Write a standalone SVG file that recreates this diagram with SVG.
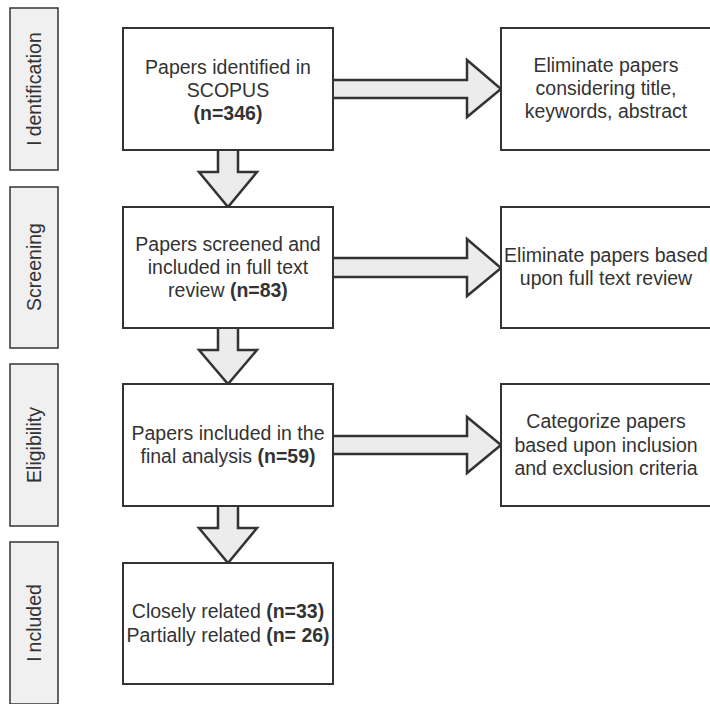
<svg xmlns="http://www.w3.org/2000/svg" width="710" height="704" viewBox="0 0 710 704">
<style>
.bar{fill:#f0f0f0;stroke:#333;stroke-width:1.5}
.box{fill:#fff;stroke:#333;stroke-width:2}
.arr{fill:#ececec;stroke:#333;stroke-width:2.5;stroke-linejoin:miter}
text{font-family:"Liberation Sans",Arial,sans-serif;font-size:19.5px;fill:#333;text-anchor:middle}
.b{font-weight:bold}
</style>
<rect width="710" height="704" fill="#fff"/>
<g id="phase-identification"><rect class="bar" x="10" y="8" width="48" height="162"/><text transform="translate(41,89) rotate(-90)"><tspan>I</tspan><tspan dx="4">dentification</tspan></text></g>
<g id="phase-screening"><rect class="bar" x="10" y="187" width="48" height="161"/><text transform="translate(41,267) rotate(-90)">Screening</text></g>
<g id="phase-eligibility"><rect class="bar" x="10" y="364" width="48" height="162"/><text transform="translate(41,445) rotate(-90)">Eligibility</text></g>
<g id="phase-included"><rect class="bar" x="10" y="542" width="48" height="162"/><text transform="translate(41,623) rotate(-90)"><tspan>I</tspan><tspan dx="4">ncluded</tspan></text></g>

<g id="connectors">
<path class="arr" d="M333,80 H467 V60 L501,89 L467,117 V98 H333"/>
<path class="arr" d="M333,258 H467 V239 L501,268 L467,296 V277 H333"/>
<path class="arr" d="M333,436 H467 V417 L501,445 L467,473 V454 H333"/>
<path class="arr" d="M218,150 V172 H199 L228,207 L257,172 H238 V150"/>
<path class="arr" d="M218,328 V350 H199 L228,384 L257,350 H238 V328"/>
<path class="arr" d="M218,506 V528 H199 L228,563 L257,528 H238 V506"/>
</g>

<g id="n1"><rect class="box" x="123" y="28" width="210" height="122"/><text x="228" y="74">Papers identified in</text><text x="228" y="97">SCOPUS</text><text x="228" y="120" class="b">(n=346)</text></g>
<g id="n2"><rect class="box" x="123" y="207" width="210" height="121"/><text x="228" y="251">Papers screened and</text><text x="228" y="274">included in full text</text><text x="228" y="297">review <tspan class="b">(n=83)</tspan></text></g>
<g id="n3"><rect class="box" x="123" y="384" width="210" height="122"/><text x="228" y="440">Papers included in the</text><text x="228" y="463">final analysis <tspan class="b">(n=59)</tspan></text></g>
<g id="n4"><rect class="box" x="123" y="563" width="210" height="121"/><text x="228" y="618">Closely related <tspan class="b">(n=33)</tspan></text><text x="228" y="642">Partially related <tspan class="b">(n= 26)</tspan></text></g>

<g id="r1"><rect class="box" x="501" y="28" width="215" height="122"/><text x="606" y="72">Eliminate papers</text><text x="606" y="95">considering title,</text><text x="606" y="118">keywords, abstract</text></g>
<g id="r2"><rect class="box" x="501" y="207" width="215" height="121"/><text x="606" y="262">Eliminate papers based</text><text x="606" y="285">upon full text review</text></g>
<g id="r3"><rect class="box" x="501" y="384" width="215" height="122"/><text x="606" y="428">Categorize papers</text><text x="606" y="452">based upon inclusion</text><text x="606" y="475">and exclusion criteria</text></g>
</svg>
